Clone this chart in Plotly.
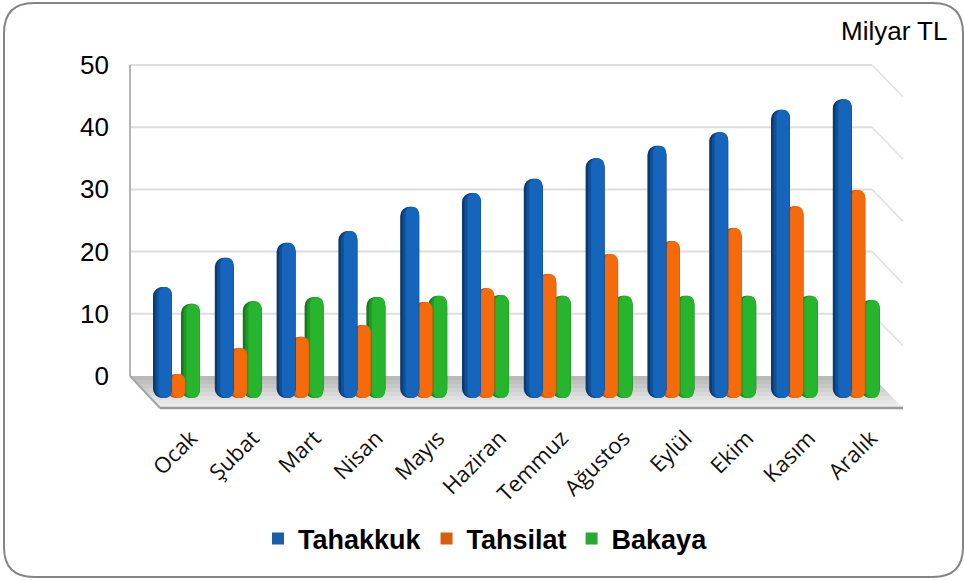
import plotly.graph_objects as go

months = ["Ocak","Şubat","Mart","Nisan","Mayıs","Haziran","Temmuz","Ağustos","Eylül","Ekim","Kasım","Aralık"]
tahakkuk = [14.3,19.0,21.4,23.3,27.2,29.4,31.7,35.0,37.0,39.2,42.8,44.5]
tahsilat = [0.3,4.5,6.3,8.2,11.9,14.1,16.4,19.6,21.7,23.8,27.3,29.9]
bakaya = [11.6,12.0,12.7,12.7,12.9,13.0,12.9,12.9,12.9,12.9,12.9,12.2]
y_ticks = [0,10,20,30,40,50]

W, H = 965, 581
L, R, T, B = 130, 903, 65, 408
STEP = 61.8
X0 = 176.0
BASE = -3.54  # bars stand forward on the floor, below the wall's zero line
YMIN = -5.15
YMAX = 50
LABEL_SHIFT = 15 / STEP

def px(x): return (x - L) / (R - L)
def py(y): return (B - y) / (B - T)
def val_y(v): return B - (v - YMIN) / (YMAX - YMIN) * (B - T)
def pts(seq): return "M " + " L ".join(f"{px(a):.5f},{py(b):.5f}" for a, b in seq) + " Z"

shapes = []
r = 30
cl, cr, ct, cb = 4, 963, 3, 577
card = (f"M {px(cl+r)},{py(ct)} L {px(cr-r)},{py(ct)} Q {px(cr)},{py(ct)} {px(cr)},{py(ct+r)} "
        f"L {px(cr)},{py(cb-r)} Q {px(cr)},{py(cb)} {px(cr-r)},{py(cb)} L {px(cl+r)},{py(cb)} "
        f"Q {px(cl)},{py(cb)} {px(cl)},{py(cb-r)} L {px(cl)},{py(ct+r)} Q {px(cl)},{py(ct)} {px(cl+r)},{py(ct)} Z")
shapes.append(dict(type="path", path=card, xref="paper", yref="paper", fillcolor="white",
                   line=dict(color="#858585", width=2), layer="below"))
bands = ["#b9b9b9","#c0c0c0","#c8c8c8","#d0d0d0","#d8d8d8","#e0e0e0","#e6e6e6","#ebebeb"]
yb, yf, xb0, xb1, xf0, xf1 = 376, 408, 130, 872, 160, 903
n = len(bands)
for i, c in enumerate(bands):
    a, b = i / n, (i + 1) / n
    q = [(xb0 + (xf0 - xb0) * a, yb + (yf - yb) * a), (xb1 + (xf1 - xb1) * a, yb + (yf - yb) * a),
         (xb0 + (xf0 - xb0) * b, yb + (yf - yb) * b + 0.5), (xb1 + (xf1 - xb1) * b, yb + (yf - yb) * b + 0.5)]
    shapes.append(dict(type="path", path=pts([q[0], q[1], q[3], q[2]]), xref="paper", yref="paper",
                       fillcolor=c, line=dict(width=0), layer="below"))
for t in y_ticks[1:]:
    y = val_y(t)
    shapes.append(dict(type="line", xref="paper", yref="paper", x0=px(130), x1=px(872), y0=py(y), y1=py(y),
                       line=dict(color="#dedede", width=2), layer="below"))
    shapes.append(dict(type="line", xref="paper", yref="paper", x0=px(872), x1=px(903), y0=py(y), y1=py(y + 32),
                       line=dict(color="#e0e0e0", width=1.5), layer="below"))
shapes.append(dict(type="line", xref="paper", yref="paper", x0=px(130), x1=px(130), y0=py(65), y1=py(376),
                   line=dict(color="#b5b5b5", width=2), layer="below"))
shapes.append(dict(type="line", xref="paper", yref="paper", x0=px(130), x1=px(160), y0=py(376), y1=py(408),
                   line=dict(color="#a5a5a5", width=2), layer="below"))
shapes.append(dict(type="line", xref="paper", yref="paper", x0=px(160), x1=px(903), y0=py(408), y1=py(408),
                   line=dict(color="#9a9a9a", width=2.5), layer="below"))

series = [
    ("Bakaya", bakaya, 14.5, ["#157a1e", "#1f9a26", "#27b52d"], 3, "#2aa832"),
    ("Tahsilat", tahsilat, 0.0, ["#b84a08", "#dc5c08", "#f56a0a"], 2, "#d95c0c"),
    ("Tahakkuk", tahakkuk, -13.5, ["#0a3a72", "#0f5199", "#1565bd"], 1, "#1a5ea8"),
]
fig = go.Figure()
cats = list(range(len(months)))
BW = 19.0
for name, vals, off, cols, rank, icon in series:
    layers = [(0.0, BW, cols[0], 9), (2.5, BW - 2.5, cols[1], 8), (5.5, BW - 6.0, cols[2], 6)]
    for inset, wpx, col, cr_ in layers:
        fig.add_trace(go.Bar(
            x=cats, y=[v - BASE for v in vals], base=BASE, name=name, legendgroup=name,
            showlegend=False,
            width=wpx / STEP, offset=(off - BW / 2 + inset) / STEP,
            marker=dict(color=col, line=dict(width=0), cornerradius=cr_),
            customdata=vals, hovertemplate="%{x}: %{customdata}<extra>" + name + "</extra>",
        ))
    fig.add_trace(go.Bar(x=[None], y=[None], name=name, legendgroup=name, legendrank=rank,
                         marker=dict(color=icon, line=dict(width=0))))

fig.update_layout(
    width=W, height=H, margin=dict(l=L, r=W - R, t=T, b=H - B, pad=0, autoexpand=False),
    barmode="overlay", paper_bgcolor="white", plot_bgcolor="rgba(0,0,0,0)", shapes=shapes,
    xaxis=dict(range=[(L - X0) / STEP, (R - X0) / STEP], tickvals=[c + LABEL_SHIFT for c in cats], ticktext=months,
               tickangle=-45, showgrid=False, zeroline=False, showline=False, ticks="", ticklabelstandoff=12,
               tickfont=dict(family="Open Sans", size=22, color="#111111")),
    yaxis=dict(range=[YMIN, YMAX], tickvals=y_ticks, showgrid=False, zeroline=False, showline=False,
               ticks="", ticklabelstandoff=20, tickfont=dict(family="Liberation Sans", size=26, color="black")),
    legend=dict(orientation="h", x=px(258), y=py(539), xanchor="left", yanchor="middle",
                bgcolor="rgba(0,0,0,0)", font=dict(family="Liberation Sans", size=27, color="black", weight="bold")),
    annotations=[dict(text="Milyar TL", xref="paper", yref="paper", x=px(949), y=py(31), xanchor="right",
                      yanchor="middle", showarrow=False,
                      font=dict(family="Liberation Sans", size=26, color="black"))],
)
fig.write_html("out.html", config={"displayModeBar": False}, post_script="document.body.style.margin='0';")
